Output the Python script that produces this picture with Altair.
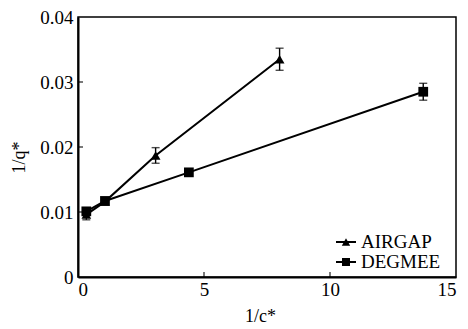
import altair as alt
import pandas as pd

series_names = ["AIRGAP", "DEGMEE"]
airgap_x = [0.33, 1.07, 3.08, 8.0]
airgap_y = [0.0096, 0.0116, 0.0187, 0.0335]
airgap_err = [0.0008, 0.0004, 0.0012, 0.0017]
degmee_x = [0.33, 1.07, 4.4, 13.7]
degmee_y = [0.0101, 0.0117, 0.0161, 0.0285]
degmee_err = [0.0005, 0.0004, 0.0005, 0.0013]
x_ticks = [5, 10]
y_ticks = [0.01, 0.02, 0.03]

rows = []
for name, xs_, ys_, es_ in [("AIRGAP", airgap_x, airgap_y, airgap_err),
                            ("DEGMEE", degmee_x, degmee_y, degmee_err)]:
    for i, (x, y, e) in enumerate(zip(xs_, ys_, es_)):
        rows.append({"series": name, "x": x, "y": y, "lo": y - e, "hi": y + e, "order": i})
df = pd.DataFrame(rows)

FONT = "Liberation Serif"
xs = alt.Scale(domain=[0, 15], nice=False, zero=False)
ys = alt.Scale(domain=[0, 0.04], nice=False, zero=False)

xax = alt.Axis(values=[0, 5, 10, 15], ticks=False, grid=False, labelPadding=3,
               title="1/c*", titleX=182, titleY=39, titleBaseline="middle")
yax = alt.Axis(values=[0, 0.01, 0.02, 0.03, 0.04], ticks=False, grid=False, labelPadding=5,
               labelExpr="datum.value == 0 ? '0' : format(datum.value, '.2f')",
               title="1/q*", titleX=-59, titleY=140, titleAlign="center",
               titleBaseline="middle", titleAngle=-90)

base = alt.Chart(df)

lines = base.mark_line(color="black", strokeWidth=2).encode(
    x=alt.X("x:Q", scale=xs, axis=xax),
    y=alt.Y("y:Q", scale=ys, axis=yax),
    detail="series:N",
    order="order:Q",
)

rules = base.mark_rule(color="black", strokeWidth=1.4).encode(
    x="x:Q", y="lo:Q", y2="hi:Q")
caps_lo = base.mark_tick(color="black", orient="horizontal", size=8, thickness=1.4).encode(
    x="x:Q", y="lo:Q")
caps_hi = base.mark_tick(color="black", orient="horizontal", size=8, thickness=1.4).encode(
    x="x:Q", y="hi:Q")

points = base.mark_point(filled=True, color="black", opacity=1, size=95).encode(
    x="x:Q", y="y:Q",
    shape=alt.Shape("series:N", scale=alt.Scale(domain=series_names,
                                                range=["triangle-up", "square"]), legend=None),
)

tri_path = "M-1,-0.09H1V0.09H-1ZM-0.42,0.38L0,-0.38L0.42,0.38Z"
sq_path = "M-1,-0.09H1V0.09H-1ZM-0.4,-0.4H0.4V0.4H-0.4Z"
legend_layer = base.mark_point(filled=True, color="black", opacity=1).encode(
    x="x:Q", y="y:Q",
    shape=alt.Shape("series:N",
                    scale=alt.Scale(domain=series_names, range=[tri_path, sq_path]),
                    legend=alt.Legend(title=None, orient="none", legendX=258, legendY=215)),
).transform_filter("false")

xt = alt.Chart(pd.DataFrame({"v": x_ticks})).mark_tick(
    color="black", orient="vertical", size=5, thickness=1.5, yOffset=-2.5).encode(
    x="v:Q", y=alt.datum(0))
yt = alt.Chart(pd.DataFrame({"v": y_ticks})).mark_tick(
    color="black", orient="horizontal", size=5, thickness=1.5, xOffset=2.5).encode(
    y="v:Q", x=alt.datum(0))

chart = alt.layer(lines, rules, caps_lo, caps_hi, points, legend_layer, xt, yt).resolve_scale(
    shape="independent"
).properties(
    width=378, height=260,
    background="white",
    autosize=alt.AutoSizeParams(type="none"),
    padding={"left": 70, "top": 9, "right": 4, "bottom": 48},
).configure_view(
    stroke="black", strokeWidth=1.5
).configure_axis(
    labelFont=FONT, labelFontSize=19, labelColor="black",
    domainColor="black", domainWidth=2,
    titleFont=FONT, titleFontSize=18, titleFontWeight="normal", titleColor="black",
).configure_legend(
    labelFont=FONT, labelFontSize=19, labelColor="black",
    symbolSize=400, symbolFillColor="black", symbolStrokeColor="black",
    symbolStrokeWidth=0, symbolOpacity=1, labelOffset=5, rowPadding=0, padding=0,
)

chart.save("out.html", embed_options={"renderer": "svg", "actions": False})
